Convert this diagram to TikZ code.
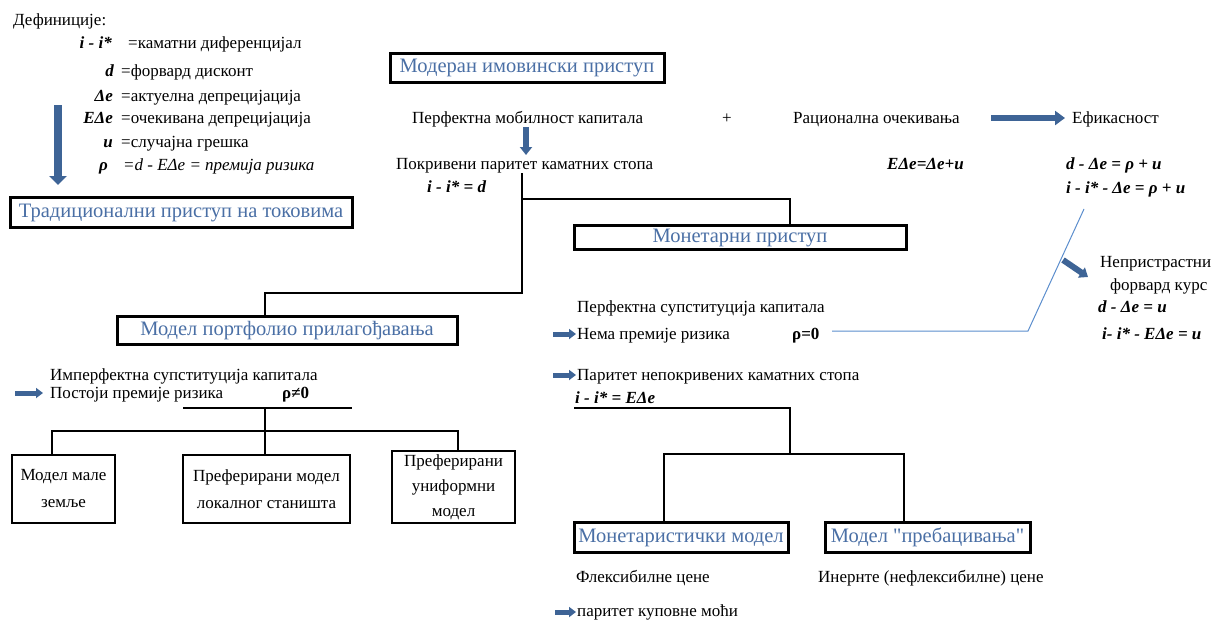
\documentclass[tikz,border=0pt]{standalone}
\usepackage{fontspec}
\setmainfont{Liberation Serif}
\newfontfamily\qfont{Liberation Serif}
\usetikzlibrary{arrows.meta}
\definecolor{tblue}{RGB}{74,111,165}
\definecolor{ablue}{RGB}{62,100,150}
\definecolor{lblue}{RGB}{91,141,205}
\begin{document}
\begin{tikzpicture}[x=1pt,y=-1pt,
  txt/.style={inner sep=0pt,anchor=base west,font=\fontsize{17}{20}\selectfont},
  txtr/.style={txt,anchor=base east},
  bi/.style={txt,font=\fontsize{17}{20}\selectfont\bfseries\itshape},
  bir/.style={bi,anchor=base east},
  bt/.style={txt,font=\fontsize{17}{20}\selectfont\bfseries},
  titlebox/.style={draw,line width=3pt,inner sep=0pt,text=tblue,font=\fontsize{20.5}{24}\selectfont,text height=14pt,text depth=4pt},
  smallbox/.style={draw,line width=2pt,inner sep=0pt,align=center,font=\fontsize{17}{27}\selectfont},
  conn/.style={line width=2pt},
  thinline/.style={lblue,line width=1pt},
  bigdown/.style={ablue,line width=8pt,-{Triangle[length=9pt,width=17pt]}},
  medarrow/.style={ablue,line width=6pt,-{Triangle[length=10pt,width=14pt]}},
  smallarrow/.style={ablue,line width=6pt,-{Triangle[length=8pt,width=12pt]}},
  tinyarrow/.style={ablue,line width=5pt,-{Triangle[length=7pt,width=10pt]}}
]
\useasboundingbox (0,0) rectangle (1223,619);

% ---------- definitions ----------
\node[txt] (defs) at (13,25) {Дефиниције:};
\node[bir] (s1) at (112,48) {i - i*};
\node[txt] (d1) at (128,48) {=каматни диференцијал};
\node[bir] (s2) at (114,76) {d};
\node[txt] (d2) at (121,76) {=форвард дисконт};
\node[bir] (s3) at (113,101) {Δe};
\node[txt] (d3) at (121,101) {=актуелна депрецијација};
\node[bir] (s4) at (113,123) {EΔe};
\node[txt] (d4) at (121,123) {=очекивана депрецијација};
\node[bir] (s5) at (113,147) {u};
\node[txt] (d5) at (121,147) {=случајна грешка};
\node[bir] (s6) at (108,170) {ρ};
\node[txt,font=\fontsize{17}{20}\selectfont\itshape] (d6) at (123,170) {=d - EΔe = премија ризика};

\node[titlebox,minimum width=342pt,minimum height=30pt] (trad) at (181,212) {Традиционални приступ на токовима};
\coordinate (a1s) at (58,105);
\coordinate (a1e) at (58,185);
\draw[bigdown] (a1s) -- (a1e);

% ---------- modern approach ----------
\node[titlebox,minimum width=274pt,minimum height=29pt] (moder) at (527,67.5) {Модеран имовински приступ};
\node[txt] (pmk) at (412,123) {Перфектна мобилност капитала};
\node[txt] (plus) at (722,123) {+};
\node[txt] (rac) at (793,123) {Рационална очекивања};
\node[txt] (efik) at (1072,123) {Ефикасност};
\coordinate (a2s) at (991,118);
\coordinate (a2e) at (1065,118);
\draw[medarrow] (a2s) -- (a2e);

\coordinate (a3s) at (526,127);
\coordinate (a3e) at (526,155);
\draw[smallarrow] (a3s) -- (a3e);

\node[txt] (pokr) at (396,169) {Покривени паритет каматних стопа};
\node[bi] (eqd) at (427,192) {i - i* = d};
\node[bi] (ede) at (887,169) {EΔe=Δe+u};
\node[bi] (eff1) at (1066,169) {d - Δe = ρ + u};
\node[bi] (eff2) at (1066,193) {i - i* - Δe = ρ + u};

\node[titlebox,minimum width=332pt,minimum height=24pt] (mon) at (740,237) {Монетарни приступ};
\node[titlebox,minimum width=340pt,minimum height=28pt] (pf) at (287,330) {Модел портфолио прилагођавања};

\coordinate (jA) at (522,173);
\coordinate (jPF) at (265,293);
\coordinate (jMON) at (790,199);
\draw[conn] (jA) |- (jPF) -- (jPF |- pf.north);
\draw[conn] (jA |- jMON) -- (jMON) -- (jMON |- mon.north);

% ---------- unbiased forward ----------
\node[txt] (nep1) at (1100,267) {Непристрастни};
\node[txt] (nep2) at (1110,290) {форвард курс};
\node[bi] (nep3) at (1098,312) {d - Δe = u};
\node[bi] (nep4) at (1102,339) {i- i* - EΔe = u};
\coordinate (a4s) at (1063,260);
\coordinate (a4e) at (1088,277);
\draw[smallarrow] (a4s) -- (a4e);

% ---------- monetary branch ----------
\node[txt] (pss) at (577,312) {Перфектна супституција капитала};
\node[txt] (nema) at (577,339) {Нема премије ризика};
\node[bt] (rho0) at (792,339) {ρ=0};
\node[txt] (pnks) at (577,380) {Паритет непокривених каматних стопа};
\node[bi] (eqe) at (575,403) {i - i* = EΔe};
\coordinate (a5s) at (553,334);
\coordinate (a5e) at (576,334);
\draw[tinyarrow] (a5s) -- (a5e);
\coordinate (a6s) at (553,375);
\coordinate (a6e) at (576,375);
\draw[tinyarrow] (a6s) -- (a6e);

\coordinate (t1) at (832,331);
\coordinate (t2) at (1028,331);
\coordinate (t3) at (1084,209);
\draw[thinline] (t1) -- (t2) -- (t3);

\node[titlebox,minimum width=214pt,minimum height=30pt] (mmod) at (681,537) {Монетаристички модел};
\node[titlebox,minimum width=205pt,minimum height=30pt] (preb) at (927.5,537) {\qfont Модел "пребацивања"};

\coordinate (uR1) at (574,408);
\coordinate (uR2) at (790,408);
\coordinate (rh) at (790,454);
\coordinate (rb1) at (664,454);
\coordinate (rb2) at (904,454);
\draw[conn] (uR1) -- (uR2) -- (rh);
\draw[conn] (rb1 |- mmod.north) -- (rb1) -- (rb2) -- (rb2 |- preb.north);

\node[txt] (flex) at (576,582) {Флексибилне цене};
\node[txt] (iner) at (818,582) {Инернте (нефлексибилне) цене};
\node[txt] (ppp) at (577,616) {паритет куповне моћи};
\coordinate (a7s) at (555,612);
\coordinate (a7e) at (576,612);
\draw[tinyarrow] (a7s) -- (a7e);

% ---------- portfolio branch ----------
\node[txt] (imp) at (50,380) {Имперфектна супституција капитала};
\node[txt] (post) at (50,398) {Постоји премије ризика};
\node[bt] (rhon) at (282,398) {ρ≠0};
\coordinate (a8s) at (15,393);
\coordinate (a8e) at (43,393);
\draw[tinyarrow] (a8s) -- (a8e);

\node[smallbox,minimum width=103pt,minimum height=68pt] (b1) at (63.5,489) {Модел мале\\земље};
\node[smallbox,minimum width=167pt,minimum height=68pt] (b2) at (266.5,489) {Преферирани модел\\локалног станишта};
\node[smallbox,minimum width=123pt,minimum height=72pt,font=\fontsize{17}{25}\selectfont] (b3) at (453.5,487) {Преферирани\\униформни\\модел};

\coordinate (uL1) at (183,408);
\coordinate (uL2) at (352,408);
\coordinate (lh) at (265,431);
\coordinate (lb1) at (52,431);
\coordinate (lb3) at (458,431);
\draw[conn] (uL1) -- (uL2);
\draw[conn] (lh |- uL1) -- (lh) -- (lh |- b2.north);
\draw[conn] (lb1 |- b1.north) -- (lb1) -- (lb3) -- (lb3 |- b3.north);
\end{tikzpicture}
\end{document}
